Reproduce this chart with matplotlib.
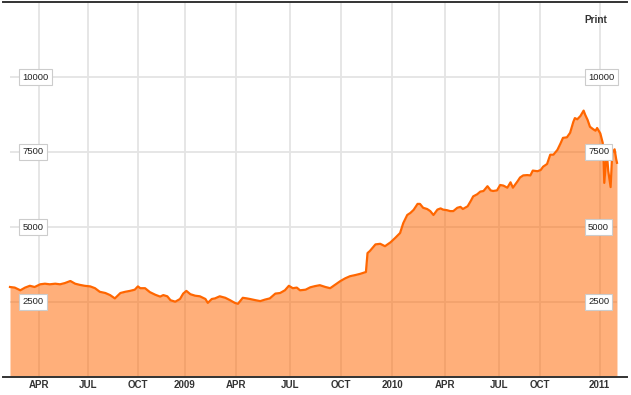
import matplotlib as mpl
mpl.use('Agg')
import matplotlib.pyplot as plt
import matplotlib.transforms as mtransforms

# trading-session index (0 = first session, early Feb 2008) and closing level
sessions = [0, 6, 13, 19, 25, 31, 38, 44, 50, 57,
            63, 69, 76, 82, 88, 94, 101, 107, 113, 120,
            126, 132, 139, 145, 151, 157, 161, 164, 170, 176,
            183, 189, 193, 198, 202, 208, 214, 218, 222, 227,
            233, 239, 246, 249, 254, 258, 264, 271, 277, 283,
            287, 293, 298, 302, 309, 315, 321, 327, 334, 340,
            346, 351, 356, 361, 365, 372, 378, 384, 390, 397,
            403, 409, 416, 422, 428, 435, 441, 447, 448, 450,
            453, 460, 466, 472, 479, 485, 491, 495, 500, 504,
            508, 513, 516, 520, 525, 529, 533, 538, 542, 545,
            550, 554, 558, 563, 567, 570, 576, 580, 583, 588,
            592, 596, 601, 605, 608, 613, 617, 621, 626, 630,
            633, 639, 642, 646, 651, 655, 658, 664, 668, 671,
            676, 680, 684, 689, 693, 696, 701, 705, 709, 711,
            714, 718, 722, 724, 727, 730, 734, 737, 739, 743,
            746, 747, 748, 751, 752, 753, 756, 758, 761, 763,
            764]
close = [3000, 2980, 2890, 2980, 3040, 3000, 3090, 3110, 3090, 3110,
         3090, 3130, 3200, 3110, 3070, 3040, 3020, 2960, 2840, 2800,
         2730, 2620, 2800, 2840, 2870, 2910, 3020, 2960, 2960, 2830,
         2740, 2680, 2730, 2690, 2560, 2510, 2600, 2780, 2870, 2760,
         2710, 2690, 2600, 2470, 2600, 2620, 2690, 2640, 2560, 2470,
         2440, 2640, 2620, 2600, 2560, 2530, 2580, 2620, 2780, 2800,
         2890, 3040, 2960, 2980, 2890, 2910, 2990, 3030, 3060, 3000,
         2960, 3070, 3200, 3290, 3360, 3400, 3440, 3490, 3500, 4130,
         4200, 4420, 4440, 4360, 4490, 4640, 4800, 5130, 5400, 5470,
         5570, 5770, 5770, 5640, 5600, 5530, 5400, 5580, 5620, 5580,
         5560, 5530, 5530, 5640, 5670, 5600, 5690, 5870, 6020, 6090,
         6180, 6200, 6360, 6220, 6200, 6220, 6400, 6380, 6310, 6490,
         6310, 6530, 6650, 6720, 6730, 6720, 6880, 6860, 6900, 7010,
         7100, 7410, 7410, 7570, 7790, 7970, 7990, 8140, 8500, 8630,
         8590, 8700, 8880, 8740, 8570, 8340, 8260, 8210, 8300, 8120,
         7810, 7370, 6470, 7470, 7200, 6870, 6330, 7470, 7590, 7260,
         7140]

tick_pos = [37, 98, 161, 220, 284, 352, 416, 481, 547, 615, 667, 742]
tick_labels = ['APR', 'JUL', 'OCT', '2009', 'APR', 'JUL', 'OCT', '2010',
               'APR', 'JUL', 'OCT', '2011']
y_levels = [2500, 5000, 7500, 10000]

line_c = '#ff6600'
grid_c = '#e4e4e4'

fig = plt.figure(figsize=(6.31, 3.95), dpi=100)
ax = fig.add_axes([3/631, 18/395, 624/631, 375/395])

ax.set_xlim(-8.8, 776.6)
ax.set_ylim(0, 12500)

# grid: vertical full height, horizontal only across the data span
for p in tick_pos:
    ax.axvline(p, color=grid_c, lw=1.3, zorder=0)
ax.hlines(y_levels, sessions[0], sessions[-1], color=grid_c, lw=1.3, zorder=0)

ax.fill_between(sessions, close, 0, color=line_c, alpha=0.52, lw=0, zorder=1)
ax.plot(sessions, close, color=line_c, lw=1.6, zorder=2)

# boxed level labels on both sides
trans = mtransforms.blended_transform_factory(ax.transAxes, ax.transData)
box = dict(boxstyle='square,pad=0.35', fc='white', ec='#cccccc', lw=0.8)
for v in y_levels:
    for xf in (0.031, 0.9375):
        ax.text(xf, v, str(v), transform=trans, ha='left', va='center',
                fontsize=6.8, family='Liberation Sans', color='#222222',
                bbox=box, zorder=5)

ax.set_xticks(tick_pos)
ax.set_xticklabels(tick_labels, fontsize=7, fontweight='bold',
                   family='Liberation Sans', color='#333333')
ax.tick_params(axis='x', length=0, pad=2.5)
ax.set_yticks([])

for s in ['left', 'right']:
    ax.spines[s].set_visible(False)
for s in ['top', 'bottom']:
    ax.spines[s].set_color('#333333')
    ax.spines[s].set_linewidth(1.4)

fig.text(584/631, 1 - 20/395, 'Print', fontsize=7.2, fontweight='bold',
         family='Liberation Sans', color='#333333', ha='left', va='center')

plt.savefig('out.png', dpi=100)
